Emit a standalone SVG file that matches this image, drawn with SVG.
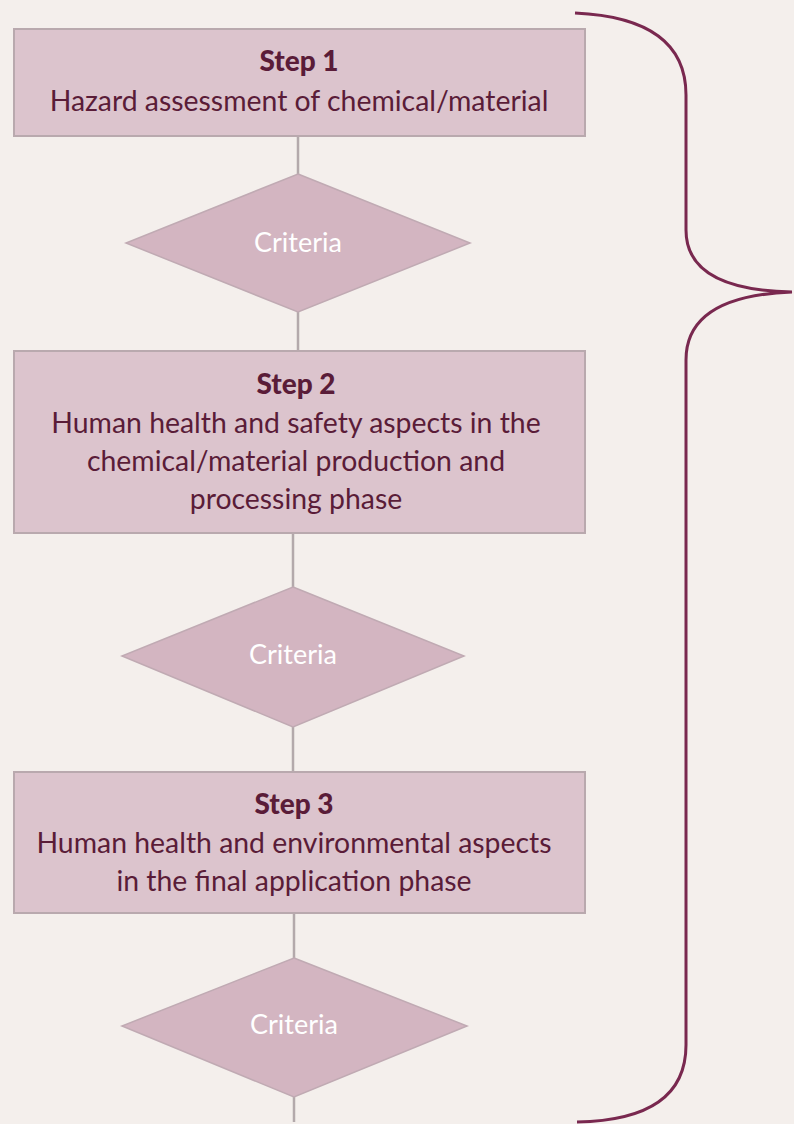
<svg xmlns="http://www.w3.org/2000/svg" width="794" height="1124" viewBox="0 0 794 1124">
<style>
.box{fill:#dcc4cd;stroke:#b9a9ae;stroke-width:2}
.dia{fill:#d3b5c1;stroke:#c0aab3;stroke-width:1.5}
.conn{stroke:#b3a9ab;stroke-width:2.5;fill:none}
.t{font-family:Lato,"Liberation Sans",sans-serif;font-size:28.4px;fill:#5a1c38;text-anchor:middle}
.b{font-weight:900;font-size:28px}
.c{font-family:Lato,"Liberation Sans",sans-serif;font-size:27px;fill:#ffffff;text-anchor:middle}
.brace{stroke:#79284f;stroke-width:3;fill:none}
</style>
<rect width="794" height="1124" fill="#f4efec"/>
<g id="connectors">
<line class="conn" x1="298" y1="136" x2="298" y2="174"/>
<line class="conn" x1="298" y1="312" x2="298" y2="351"/>
<line class="conn" x1="293" y1="533" x2="293" y2="587"/>
<line class="conn" x1="293" y1="727" x2="293" y2="772"/>
<line class="conn" x1="294" y1="913" x2="294" y2="958"/>
<line class="conn" x1="294" y1="1097" x2="294" y2="1122"/>
</g>
<g id="step1">
<rect class="box" x="14" y="29" width="571" height="107"/>
<text class="t b" x="299" y="71">Step 1</text>
<text class="t" x="299" y="111">Hazard assessment of chemical/material</text>
</g>
<g id="criteria1">
<polygon class="dia" points="298,174 470,243 298,312 126,243"/>
<text class="c" x="298" y="252">Criteria</text>
</g>
<g id="step2">
<rect class="box" x="14" y="351" width="571" height="182"/>
<text class="t b" x="296" y="394">Step 2</text>
<text class="t" x="296" y="433">Human health and safety aspects in the</text>
<text class="t" x="296" y="471">chemical/material production and</text>
<text class="t" x="296" y="509">processing phase</text>
</g>
<g id="criteria2">
<polygon class="dia" points="293,587 464,656 293,727 122,656"/>
<text class="c" x="293" y="664">Criteria</text>
</g>
<g id="step3">
<rect class="box" x="14" y="772" width="571" height="141"/>
<text class="t b" x="294" y="814">Step 3</text>
<text class="t" x="294" y="853">Human health and environmental aspects</text>
<text class="t" x="294" y="891">in the final application phase</text>
</g>
<g id="criteria3">
<polygon class="dia" points="294,958 467,1026 294,1097 122,1026"/>
<text class="c" x="294" y="1034">Criteria</text>
</g>
<g id="brace">
<path class="brace" d="M575,13 Q686,18 686,95 L686,230 Q686,290 792,292 Q686,296 686,360 L686,1045 Q686,1120 577,1122"/>
</g>
</svg>
